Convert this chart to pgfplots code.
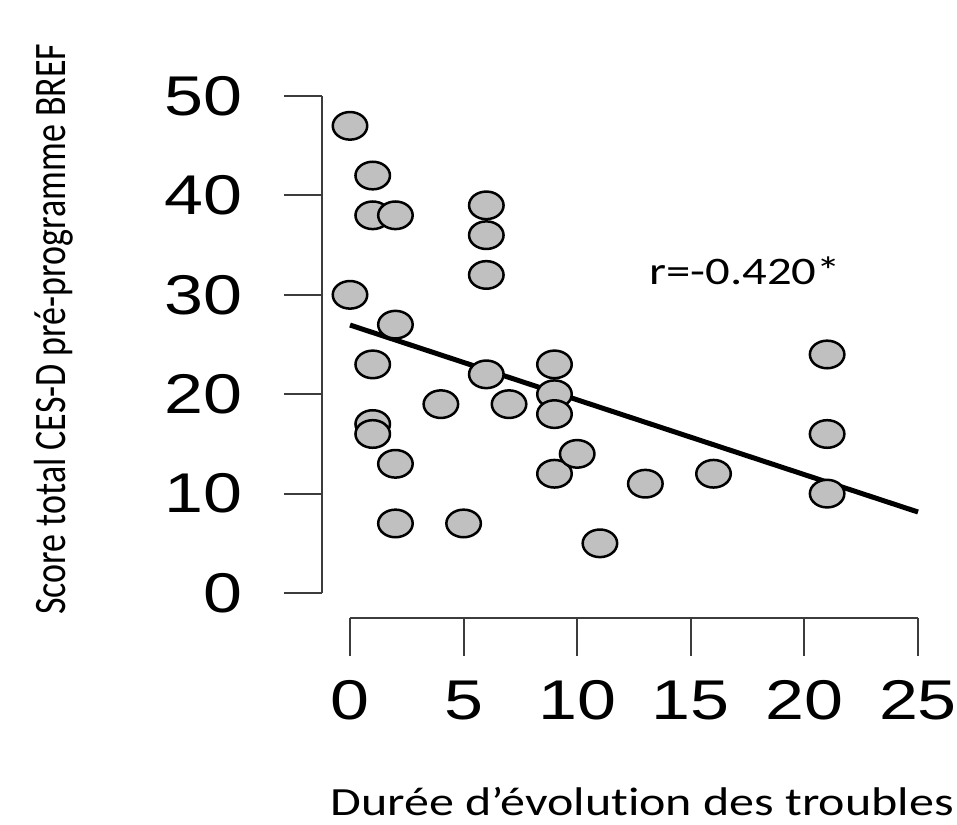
\documentclass[border=0pt]{standalone}
\usepackage{pgfplots}
\pgfplotsset{compat=1.18}
\usepackage{fontspec}
\setmainfont{Carlito}[Ligatures=NoCommon]
\newfontfamily\arialfont{Liberation Sans}
\definecolor{ptfill}{RGB}{192,192,192}
\definecolor{axgray}{RGB}{60,60,60}
\begin{document}
\begin{tikzpicture}
\begin{axis}[
  x=22.72pt, y=9.94pt,
  xmin=-1.232, xmax=25.5, ymin=-2.515, ymax=51,
  axis lines*=left,
  axis line style={draw=none},
  clip=false,
  xtick={0,5,...,25}, ytick={0,10,...,50},
  tick align=outside,
  major tick length=38pt,
  tick style={axgray, line width=2pt},
  /pgf/number format/assume math mode=true,
  ticklabel style={font=\arialfont\fontsize{56}{60}\selectfont, xscale=1.25},
  yticklabel style={anchor=east, xshift=-30pt},
  xticklabel style={anchor=north, yshift=-21pt},
  xlabel={Durée d’évolution des troubles},
  xlabel style={at={(axis description cs:0.527,-0.372)}, anchor=base, font=\fontsize{40}{48}\selectfont, xscale=1.25},
  ylabel={\scalebox{1}[1.25]{Score total CES-D pré-programme BREF}},
  ylabel style={at={(axis description cs:-0.423,0.543)}, anchor=base, font=\fontsize{36}{40}\selectfont},
]
\addplot[only marks, mark=*, mark size=13.8pt,
  mark options={xscale=1.25, fill=ptfill, draw=black, line width=2.5pt}]
  coordinates {
  (0,47) (0,30) (1,42) (1,38) (2,38) (2,27) (1,23) (1,17) (1,16) (2,13) (2,7)
  (4,19) (5,7) (6,39) (6,36) (6,32) (6,22) (7,19) (9,23) (9,20) (9,18) (9,12)
  (10,14) (11,5) (13,11) (16,12) (21,24) (21,16) (21,10)
  };
\addplot[black, line width=5pt] coordinates {(0,26.96) (25,8.15)};
\draw[axgray, line width=2pt] (axis cs:0,-2.515) -- (axis cs:25,-2.515);
\draw[axgray, line width=2pt] (axis cs:-1.232,0) -- (axis cs:-1.232,50);
\node[anchor=base, font=\fontsize{39}{44}\selectfont, xscale=1.25] at (axis cs:17.39,31.0) {r=-0.420*};
\coordinate (bl) at (axis cs:-15.405,-23.24);
\coordinate (tr) at (axis cs:26.716,59.66);
\end{axis}
\pgfresetboundingbox
\path (bl) rectangle (tr);
\end{tikzpicture}
\end{document}
